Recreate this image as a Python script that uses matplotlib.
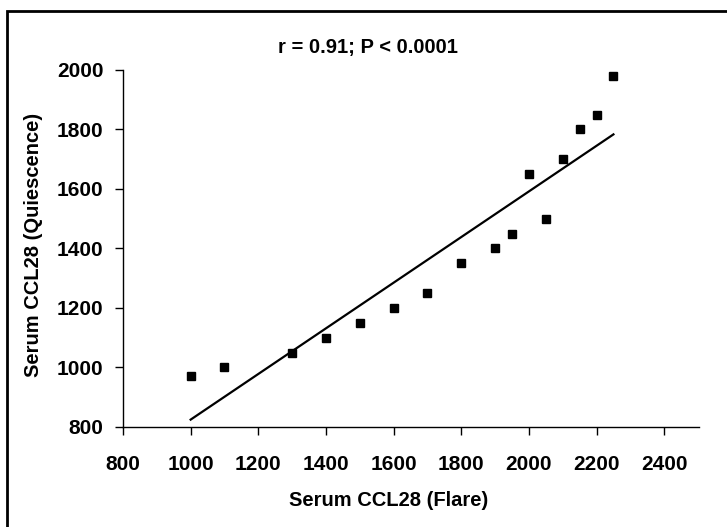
import matplotlib.pyplot as plt
import numpy as np
from matplotlib.patches import Rectangle

# Serum CCL28 levels, flare vs quiescence
flare = [1000, 1100, 1300, 1400, 1500, 1600, 1700, 1800, 1900, 1950,
         2000, 2050, 2100, 2150, 2200, 2250]
quiescence = [970, 1000, 1050, 1100, 1150, 1200, 1250, 1350, 1400, 1450,
              1650, 1500, 1700, 1800, 1850, 1980]
x_ticks = [800, 1000, 1200, 1400, 1600, 1800, 2000, 2200, 2400]
y_ticks = [800, 1000, 1200, 1400, 1600, 1800, 2000]

plt.rcParams['font.family'] = ['Liberation Sans', 'DejaVu Sans']
plt.rcParams['font.weight'] = 'bold'

fig = plt.figure(figsize=(7.27, 5.27), dpi=100)
ax = fig.add_axes([0.1692, 0.1898, 0.7923, 0.6774])

ax.plot(flare, quiescence, 's', color='black', markersize=5.8)

# linear regression line
slope, intercept = np.polyfit(flare, quiescence, 1)
fx = np.array([min(flare), max(flare)])
ax.plot(fx, slope * fx + intercept, color='black', linewidth=1.6)

ax.set_xlim(800, 2503)
ax.set_ylim(800, 2000)
ax.set_xticks(x_ticks)
ax.set_yticks(y_ticks)
ax.tick_params(direction='out', length=6, width=1, labelsize=15, pad=8)
ax.tick_params(axis='x', pad=14)
for lab in ax.get_xticklabels() + ax.get_yticklabels():
    lab.set_fontweight('bold')

for s in ['top', 'right']:
    ax.spines[s].set_visible(False)
for s in ['left', 'bottom']:
    ax.spines[s].set_linewidth(1)

fig.text(0.506, 0.909, 'r = 0.91; P < 0.0001', ha='center', va='center',
         fontsize=14.5, fontweight='bold')
fig.text(0.535, 0.051, 'Serum CCL28 (Flare)', ha='center', va='center',
         fontsize=14.5, fontweight='bold')
fig.text(0.046, 0.535, 'Serum CCL28 (Quiescence)', ha='center', va='center',
         rotation=90, fontsize=14.5, fontweight='bold')

# outer frame
fig.patches.append(Rectangle((7 / 727, -0.05), 1.1, (527 - 11) / 527 + 0.05,
                             transform=fig.transFigure, fill=False,
                             edgecolor='black', linewidth=2))

fig.savefig('out.png', dpi=100)
